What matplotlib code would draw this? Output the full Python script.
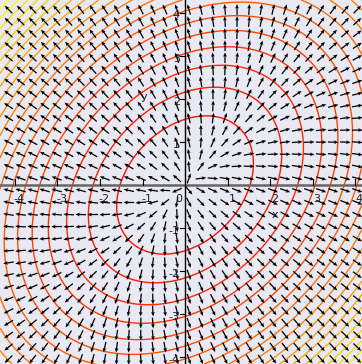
import numpy as np
import matplotlib
matplotlib.use('Agg')
import matplotlib.pyplot as plt

# Plot window
x_min, x_max = -4.35, 4.16
y_min, y_max = -4.16, 4.30

# f(x, y) = x^2 - k*x*y + y^2, field = grad f
k = 0.62
n_contours = 20

# Arrow grid
grid_x = np.linspace(-4.15, 4.05, 30)
grid_y = np.linspace(-4.05, 4.08, 30)

# Axis ticks
xticks = [-4, -3, -2, -1, 1, 2, 3, 4]
yticks = [-4, -3, -2, -1, 1, 2, 3, 4]

bg = '#e9e9f4'
txt = '#222222'

fig = plt.figure(figsize=(3.62, 3.64), dpi=100, facecolor=bg)
ax = fig.add_axes([0, 0, 1, 1])
ax.set_facecolor(bg)
ax.set_xlim(x_min, x_max)
ax.set_ylim(y_min, y_max)
for s in ax.spines.values():
    s.set_visible(False)
ax.set_xticks([])
ax.set_yticks([])

def f(x, y):
    return x**2 - k * x * y + y**2

# Contour lines, evenly spaced between min and max, red -> yellow
xs = np.linspace(x_min, x_max, 300)
ys = np.linspace(y_min, y_max, 300)
X, Y = np.meshgrid(xs, ys)
Z = f(X, Y)
levels = np.linspace(0, Z.max(), n_contours + 2)[1:-1]
cols = plt.cm.autumn(np.linspace(0.06, 1, n_contours))
ax.contour(X, Y, Z, levels=levels, colors=cols, linewidths=1.0, zorder=2)

# Direction field (normalised gradient)
GX, GY = np.meshgrid(grid_x, grid_y)
U = 2 * GX - k * GY
V = 2 * GY - k * GX
M = np.hypot(U, V)
M[M == 0] = 1
ax.quiver(GX, GY, U / M, V / M, angles='xy', scale_units='xy', scale=4.0,
          pivot='mid', color='black', width=0.0035, headwidth=3.0,
          headlength=3.5, headaxislength=3.0, zorder=3)

# Axes through the origin
ax.axhline(0, color='#666666', lw=1.8, zorder=4)
ax.axvline(0, color='black', lw=1.0, zorder=4)
for t in xticks:
    ax.plot([t, t], [0, 0.13], color='black', lw=0.8, zorder=4)
    ax.text(t + 0.1, -0.2, str(t), ha='center', va='top',
            fontsize=8, color=txt, zorder=5)
for t in yticks:
    ax.plot([-0.13, 0], [t, t], color='black', lw=0.8, zorder=4)
    ax.text(-0.12, t - 0.06, str(t), ha='right', va='center',
            fontsize=8, color=txt, zorder=5)
ax.text(-0.15, -0.2, '0', ha='center', va='top', fontsize=8, color=txt, zorder=5)
ax.text(2.12, -0.7, 'x', ha='center', va='center', fontsize=8, color=txt, zorder=5)
ax.text(-0.96, 2.05, 'y', ha='center', va='center', fontsize=8, color=txt, zorder=5)

fig.savefig('out.png', dpi=100, facecolor=bg)
